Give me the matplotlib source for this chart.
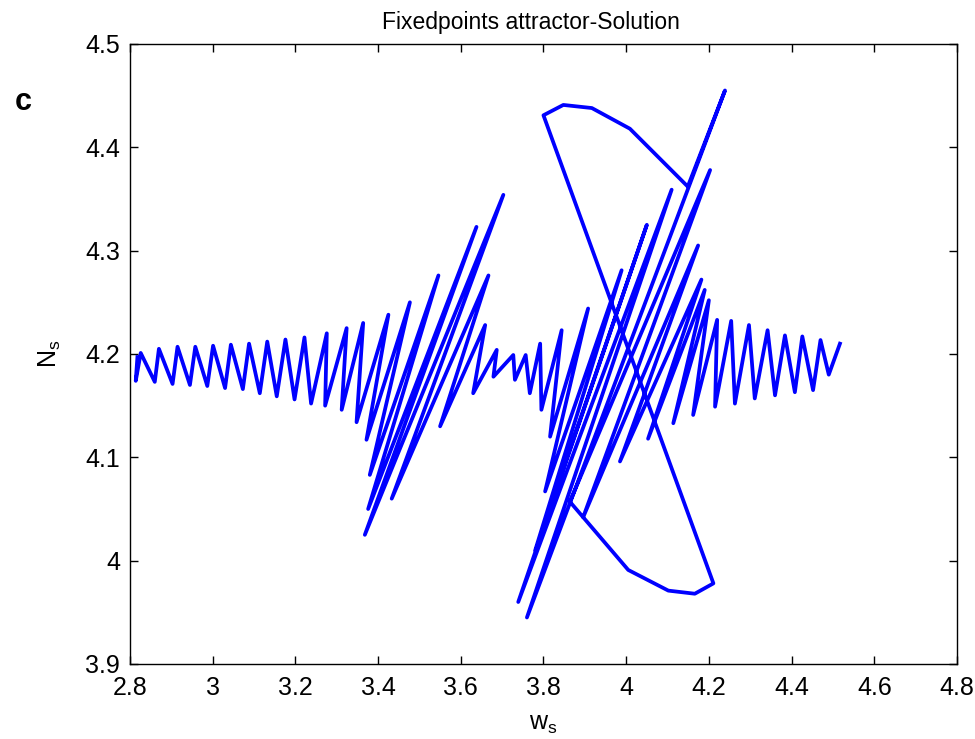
import matplotlib
matplotlib.use("Agg")
import matplotlib.pyplot as plt
import numpy as np

plt.rcParams["font.family"] = ["Liberation Sans", "DejaVu Sans"]
plt.rcParams["mathtext.fontset"] = "custom"
plt.rcParams["mathtext.rm"] = "Liberation Sans"
plt.rcParams["mathtext.it"] = "Liberation Sans"
plt.rcParams["mathtext.default"] = "regular"

# turning points of the trajectory: trough, crest, trough, crest ...
# first packet grows, peaks near w=3.5 and dies out, second packet grows after it
ws_rise = [2.818,
           2.814, 2.826, 2.860, 2.870, 2.903, 2.915, 2.945, 2.958,
           2.987, 3.001, 3.030, 3.044, 3.073, 3.088, 3.114, 3.132,
           3.155, 3.176, 3.198, 3.222, 3.238, 3.276, 3.272, 3.324,
           3.312, 3.364, 3.348, 3.425, 3.372, 3.477, 3.380, 3.546,
           3.376, 3.638, 3.368, 3.703, 3.433, 3.667, 3.550, 3.659,
           3.630, 3.687, 3.679, 3.727, 3.731, 3.757, 3.767, 3.792,
           3.795, 3.844, 3.816, 3.908, 3.804, 3.989, 3.780, 4.050,
           3.739, 4.110, 3.760, 4.239, 4.149]
ns_rise = [4.197,
           4.174, 4.201, 4.173, 4.205, 4.171, 4.207, 4.170, 4.207,
           4.169, 4.208, 4.167, 4.209, 4.166, 4.210, 4.162, 4.212,
           4.159, 4.214, 4.156, 4.216, 4.152, 4.220, 4.150, 4.225,
           4.146, 4.230, 4.134, 4.238, 4.117, 4.250, 4.083, 4.276,
           4.050, 4.323, 4.025, 4.354, 4.060, 4.276, 4.130, 4.228,
           4.162, 4.204, 4.178, 4.199, 4.175, 4.199, 4.162, 4.210,
           4.146, 4.223, 4.120, 4.244, 4.067, 4.281, 4.010, 4.325,
           3.960, 4.359, 3.945, 4.455, 4.362]

# fast excursion around the big loop
ws_jump = [4.009, 3.917, 3.848, 3.800, 4.211, 4.166, 4.102, 4.005, 3.864]
ns_jump = [4.418, 4.438, 4.441, 4.431, 3.978, 3.968, 3.971, 3.991, 4.057]

# decaying tail of the second packet
ws_tail = [4.203, 3.896, 4.174, 3.985, 4.182, 4.053, 4.190, 4.114,
           4.200, 4.162, 4.220, 4.215, 4.254, 4.263, 4.297, 4.311,
           4.342, 4.360, 4.384, 4.408, 4.426, 4.452, 4.470, 4.490,
           4.517]
ns_tail = [4.378, 4.042, 4.305, 4.096, 4.272, 4.118, 4.262, 4.133,
           4.252, 4.141, 4.233, 4.149, 4.232, 4.152, 4.228, 4.157,
           4.223, 4.160, 4.218, 4.163, 4.217, 4.165, 4.2135, 4.180,
           4.210]

w_ticks = [2.8, 3.0, 3.2, 3.4, 3.6, 3.8, 4.0, 4.2, 4.4, 4.6, 4.8]
w_labels = ["2.8", "3", "3.2", "3.4", "3.6", "3.8", "4", "4.2", "4.4", "4.6", "4.8"]
n_ticks = [3.9, 4.0, 4.1, 4.2, 4.3, 4.4, 4.5]
n_labels = ["3.9", "4", "4.1", "4.2", "4.3", "4.4", "4.5"]

ws = np.concatenate([ws_rise, ws_jump, ws_tail])
ns = np.concatenate([ns_rise, ns_jump, ns_tail])

fig = plt.figure(figsize=(9.75, 7.39), dpi=100)
ax = fig.add_axes([0.1333, 0.1015, 0.8482, 0.839])

ax.plot(ws, ns, color="#0000ff", lw=2.7, solid_joinstyle="round")

ax.set_xlim(2.8, 4.8)
ax.set_ylim(3.9, 4.5)
ax.set_xticks(w_ticks)
ax.set_xticklabels(w_labels)
ax.set_yticks(n_ticks)
ax.set_yticklabels(n_labels)
ax.tick_params(direction="in", length=6, width=1, top=True, right=True,
               labelsize=18)
ax.tick_params(axis="x", pad=9)
ax.tick_params(axis="y", pad=7)
for sp in ax.spines.values():
    sp.set_linewidth(1.0)

ax.set_title("Fixedpoints attractor-Solution", fontsize=16.5, pad=11, x=0.485)
ax.set_xlabel("w$_s$", fontsize=18, labelpad=8)
ax.set_ylabel("N$_s$", fontsize=18, labelpad=16)

fig.text(0.024, 0.862, "c", fontsize=22, fontweight="bold",
         ha="center", va="center")

fig.savefig("out.png", dpi=100)
